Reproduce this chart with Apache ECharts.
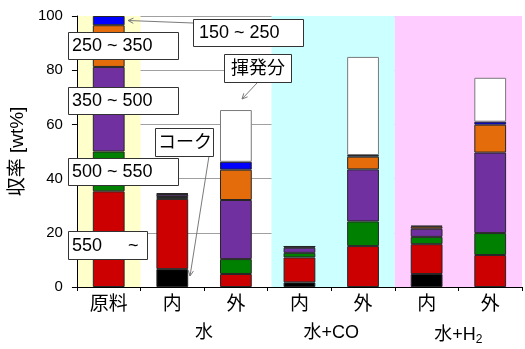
<!DOCTYPE html>
<html><head><meta charset="utf-8">
<script src="https://cdn.jsdelivr.net/npm/echarts@6/dist/echarts.min.js"></script>
<style>html,body{margin:0;padding:0;background:#fff}#c{width:525px;height:349px}</style>
</head><body><div id="c"></div>
<script>
// ---- data ----
const categories = ['原料', '内', '外', '内', '外', '内', '外'];
const groupLabels = ['水', '水+CO', '水+H2'];
const groupPos = [2, 4, 6];
const yTicks = [0, 20, 40, 60, 80, 100];
const seriesNames = ['コーク', '550 ~', '500 ~ 550', '350 ~ 500', '250 ~ 350', '150 ~ 250', '揮発分'];
const coke     = [null, 6.6, null, 1.7, null, 4.8, null];
const f550     = [35.3, 25.9, 4.8, 9.2, 15.1, 11.0, 11.8];
const f500     = [14.7, 0.7, 5.5, 1.7, 9.1, 2.7, 8.1];
const f350     = [31.2, 0.9, 21.8, 1.9, 19.2, 3.0, 29.7];
const f250     = [15.4, 0.2, 11.2, 0.4, 4.7, 0.8, 10.3];
const f150     = [3.4, 0.3, 2.9, 0.1, 0.6, 0.3, 1.1];
const volatile = [null, null, 19.1, null, 36.2, null, 16.2];
const bands = [[0, 1, '#FFFFCC'], [3.06, 5, '#CCFFFF'], [5, 7, '#FFCCFF']];

const FONT = "'Liberation Sans', Arial, 'Noto Sans CJK JP', sans-serif";
const colors = ['#000000', '#CC0000', '#008000', '#7030A0', '#E46C0A', '#0000FF', '#FFFFFF'];
const dataSets = [coke, f550, f500, f350, f250, f150, volatile];

const chart = echarts.init(document.getElementById('c'));

const barSeries = dataSets.map((d, i) => ({
  name: seriesNames[i], type: 'bar', stack: 'total', data: d, barWidth: '50%',
  xAxisIndex: 0, yAxisIndex: 0, z: 3,
  itemStyle: { color: colors[i], borderColor: i === 6 ? '#7a7a7a' : '#262626', borderWidth: 1 },
  emphasis: { disabled: true }
}));

function arrow(x1, y1, x2, y2) {
  const a = Math.atan2(y2 - y1, x2 - x1), L = 6, w = 0.45;
  return [
    { type: 'line', z: 100, shape: { x1, y1, x2, y2 }, style: { stroke: '#7a7a7a', lineWidth: 1 } },
    { type: 'polyline', z: 100, shape: { points: [[x2 - L * Math.cos(a - w), y2 - L * Math.sin(a - w)], [x2, y2], [x2 - L * Math.cos(a + w), y2 - L * Math.sin(a + w)]] },
      style: { stroke: '#7a7a7a', fill: null, lineWidth: 1 } }
  ];
}
function box(x, y, w, h, text, tx) {
  return [
    { type: 'rect', z: 100, shape: { x: x + 0.5, y: y + 0.5, width: w, height: h }, style: { fill: '#fff', stroke: '#333', lineWidth: 1 } },
    { type: 'text', z: 101, x: x + (tx || 5), y: y + h / 2 + 1, style: { text, font: "18px " + FONT, fill: '#000', textVerticalAlign: 'middle' } }
  ];
}

const graphics = [].concat(
  arrow(193, 23, 128, 20.5),
  arrow(209, 156, 190, 276),
  arrow(257, 83, 242, 99),
  box(193, 19, 110, 27, '150 ~ 250', 6),
  box(68, 32, 110, 27, '250 ~ 350', 4),
  box(68, 87, 110, 27, '350 ~ 500', 4),
  box(68, 158, 110, 27, '500 ~ 550', 4),
  box(68, 231, 79, 28, '550', 4),
  [{ type: 'text', z: 101, x: 128, y: 246, style: { text: '~', font: "18px " + FONT, fill: '#000', textVerticalAlign: 'middle' } }],
  box(155, 128, 58, 28, 'コーク', 3),
  box(224, 54, 67, 28, '揮発分', 7)
);

const option = {
  animation: false,
  backgroundColor: '#fff',
  grid: { left: 73, top: 16, width: 455, bottom: 62, containLabel: false },
  xAxis: [
    { type: 'category', data: categories, position: 'bottom',
      axisLine: { lineStyle: { color: '#000', width: 1 } },
      axisTick: { show: true, length: 4, lineStyle: { color: '#000' } },
      axisLabel: { fontSize: 19, fontFamily: FONT, color: '#000', margin: 8, interval: 0 },
      splitLine: { show: false }, z: 4 },
    { type: 'value', min: 0, max: 7, interval: 1, position: 'bottom',
      axisLine: { show: false }, axisTick: { show: false }, splitLine: { show: false },
      axisLabel: { margin: 37, fontSize: 18, fontFamily: FONT, color: '#000',
        formatter: v => { const k = groupPos.indexOf(v); if (k < 0) return '';
          const s = groupLabels[k]; return s.endsWith('2') ? '{m|' + s.slice(0, -1) + '}{sub|2}' : '{m|' + s + '}'; },
        rich: { m: { fontSize: 18, fontFamily: FONT, color: '#000' },
                sub: { fontSize: 12, fontFamily: FONT, color: '#000', padding: [10, 0, 0, 0] } } } }
  ],
  yAxis: {
    type: 'value', min: 0, max: 100, interval: 20, z: 1,
    name: '収率 [wt%]', nameLocation: 'middle', nameGap: 40, nameRotate: 90,
    nameTextStyle: { fontSize: 19, fontFamily: FONT, color: '#000' },
    axisLine: { show: true, lineStyle: { color: '#000' } },
    axisTick: { show: true, length: 5, lineStyle: { color: '#000' } },
    axisLabel: { fontSize: 15, fontFamily: FONT, color: '#000', margin: 14,
      formatter: v => yTicks.includes(v) ? String(v) : '' },
    splitLine: { show: true, lineStyle: { color: '#a0a0a0', width: 1 } }
  },
  series: [
    { type: 'line', xAxisIndex: 1, yAxisIndex: 0, data: [], z: 0, silent: true,
      markArea: { silent: true, data: bands.map(b => [{ xAxis: b[0], itemStyle: { color: b[2] } }, { xAxis: b[1] }]) } }
  ].concat(barSeries),
  graphic: graphics
};
chart.setOption(option);
</script></body></html>
